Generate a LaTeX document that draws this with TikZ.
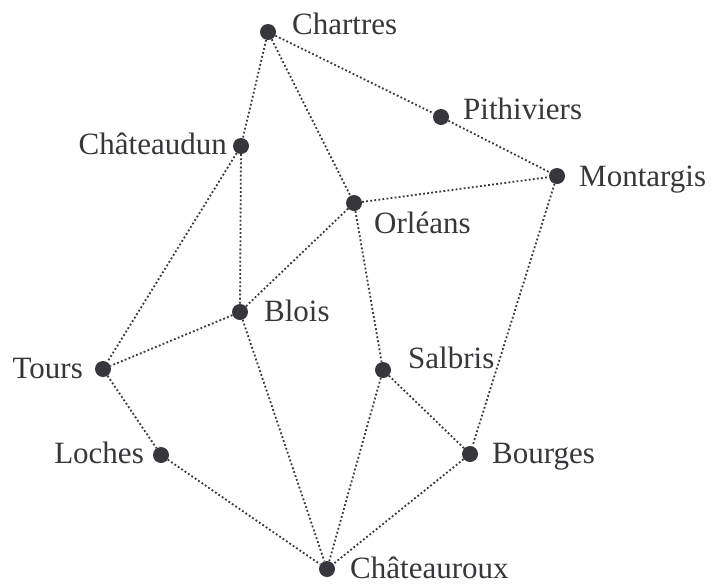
\documentclass[tikz,border=0pt]{standalone}
\usepackage{fontspec}
\setmainfont{Liberation Serif}
\usepackage{tikz}
\usepackage{xcolor}
\definecolor{ink}{RGB}{54,54,60}

\tikzset{
  city/.style={circle, fill=ink, inner sep=0pt, minimum size=16pt},
  townname/.style={text=ink, inner sep=0pt, font=\fontsize{31}{36}\selectfont},
  road/.style={ink, line width=1.8pt, dash pattern=on 1.8pt off 2.3pt}
}

\begin{document}
\begin{tikzpicture}[x=1pt, y=-1pt]
\useasboundingbox (0,0) rectangle (720,584);
% towns
\node[city] (chartres) at (268,32) {};
\node[city] (pithiviers) at (441,117) {};
\node[city] (montargis) at (557,176) {};
\node[city] (chateaudun) at (241,146) {};
\node[city] (orleans) at (354,203) {};
\node[city] (blois) at (240,312) {};
\node[city] (tours) at (103,369) {};
\node[city] (salbris) at (383,370) {};
\node[city] (loches) at (161,455) {};
\node[city] (bourges) at (470,454) {};
\node[city] (chateauroux) at (327,569) {};
% names
\node[townname, anchor=base west] (chartres-t) at (292,34) {Chartres};
\node[townname, anchor=base west] (pithiviers-t) at (463,119) {Pithiviers};
\node[townname, anchor=base west] (montargis-t) at (579,186) {Montargis};
\node[townname, anchor=base east] (chateaudun-t) at (227,154) {Châteaudun};
\node[townname, anchor=base west] (orleans-t) at (374,233) {Orléans};
\node[townname, anchor=base west] (blois-t) at (264,321) {Blois};
\node[townname, anchor=base east] (tours-t) at (83,378) {Tours};
\node[townname, anchor=base west] (salbris-t) at (408,368) {Salbris};
\node[townname, anchor=base east] (loches-t) at (144,463) {Loches};
\node[townname, anchor=base west] (bourges-t) at (492,463) {Bourges};
\node[townname, anchor=base west] (chateauroux-t) at (350,578) {Châteauroux};
% roads
\draw[road] (chartres) -- (pithiviers);
\draw[road] (pithiviers) -- (montargis);
\draw[road] (chartres) -- (chateaudun);
\draw[road] (chartres) -- (orleans);
\draw[road] (chateaudun) -- (blois);
\draw[road] (chateaudun) -- (tours);
\draw[road] (orleans) -- (montargis);
\draw[road] (orleans) -- (blois);
\draw[road] (orleans) -- (salbris);
\draw[road] (blois) -- (tours);
\draw[road] (blois) -- (chateauroux);
\draw[road] (montargis) -- (bourges);
\draw[road] (tours) -- (loches);
\draw[road] (loches) -- (chateauroux);
\draw[road] (salbris) -- (chateauroux);
\draw[road] (salbris) -- (bourges);
\draw[road] (bourges) -- (chateauroux);
\end{tikzpicture}
\end{document}
